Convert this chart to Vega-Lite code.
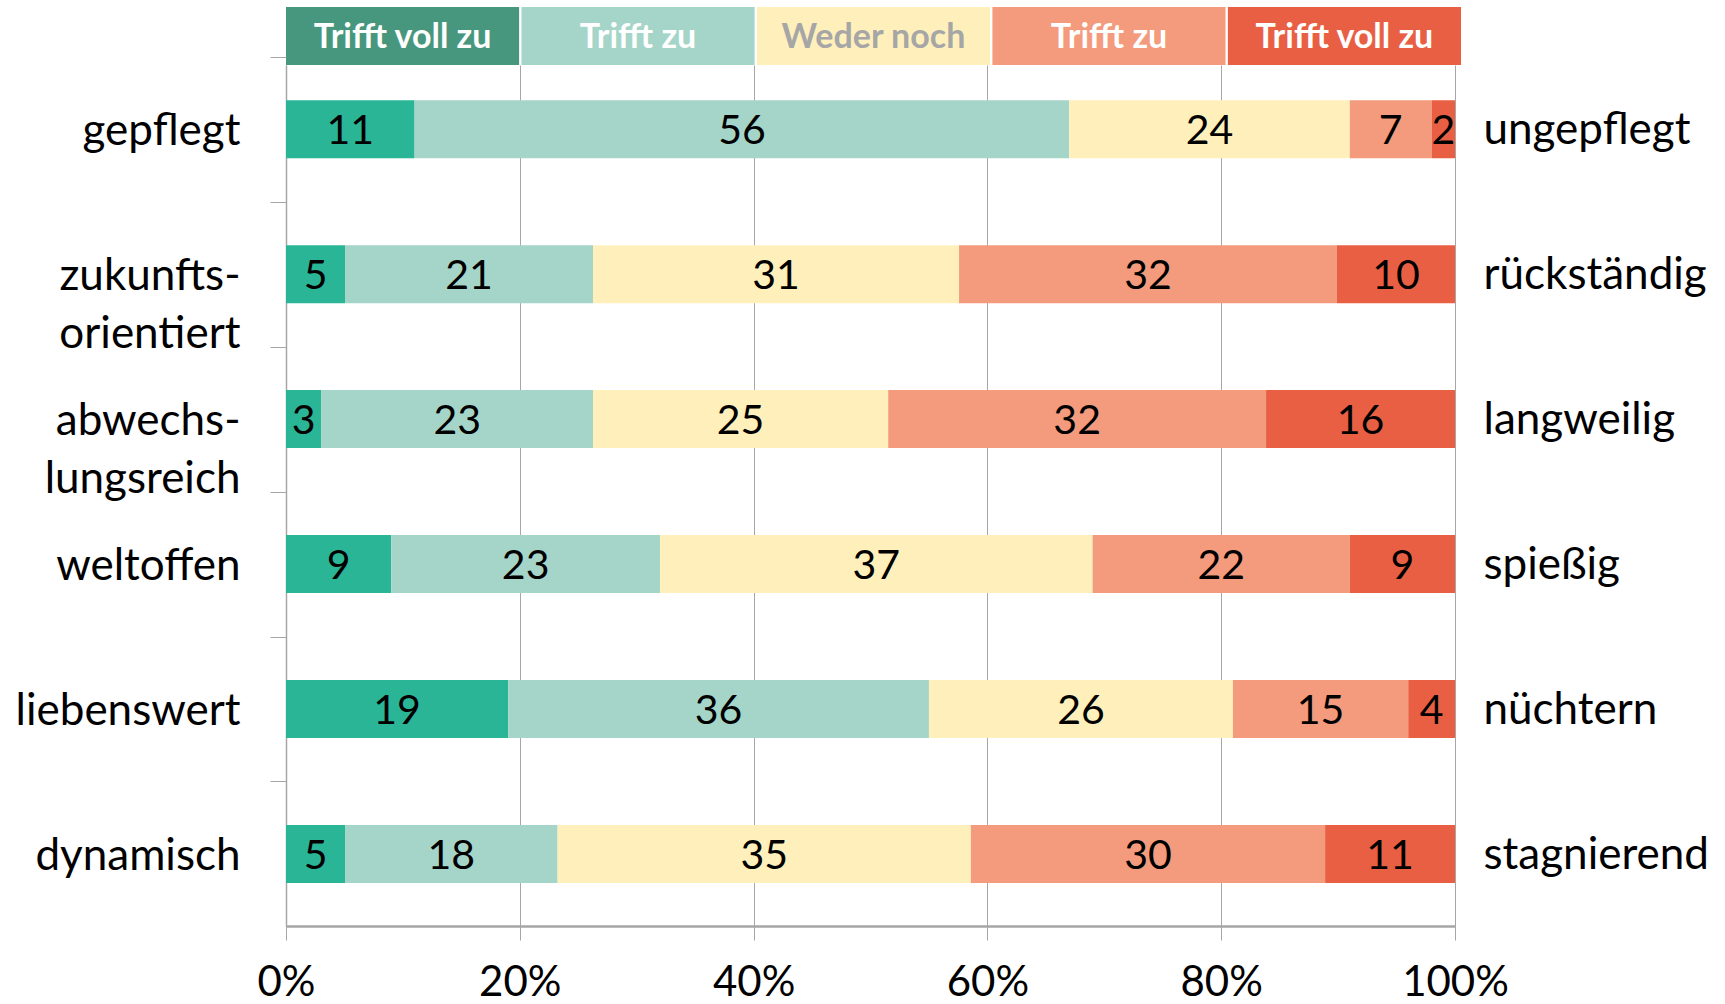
{
  "$schema": "https://vega.github.io/schema/vega-lite/v6.json",
  "background": "white",
  "padding": {"left": 15, "top": 7, "right": 5, "bottom": 0},
  "bounds": "flush",
  "spacing": 0,
  "resolve": {"scale": {"color": "independent"}},
  "config": {"view": {"stroke": null}, "font": "Lato"},
  "datasets": {
    "legende": [
      {"k": 1, "label": "Trifft voll zu"},
      {"k": 2, "label": "Trifft zu"},
      {"k": 3, "label": "Weder noch"},
      {"k": 4, "label": "Trifft zu"},
      {"k": 5, "label": "Trifft voll zu"}
    ],
    "werte": [
      {"item": "gepflegt", "gegenteil": "ungepflegt", "k": 1, "value": 11},
      {"item": "gepflegt", "gegenteil": "ungepflegt", "k": 2, "value": 56},
      {"item": "gepflegt", "gegenteil": "ungepflegt", "k": 3, "value": 24},
      {"item": "gepflegt", "gegenteil": "ungepflegt", "k": 4, "value": 7},
      {"item": "gepflegt", "gegenteil": "ungepflegt", "k": 5, "value": 2},
      {"item": "zukunftsorientiert", "gegenteil": "rückständig", "k": 1, "value": 5},
      {"item": "zukunftsorientiert", "gegenteil": "rückständig", "k": 2, "value": 21},
      {"item": "zukunftsorientiert", "gegenteil": "rückständig", "k": 3, "value": 31},
      {"item": "zukunftsorientiert", "gegenteil": "rückständig", "k": 4, "value": 32},
      {"item": "zukunftsorientiert", "gegenteil": "rückständig", "k": 5, "value": 10},
      {"item": "abwechslungsreich", "gegenteil": "langweilig", "k": 1, "value": 3},
      {"item": "abwechslungsreich", "gegenteil": "langweilig", "k": 2, "value": 23},
      {"item": "abwechslungsreich", "gegenteil": "langweilig", "k": 3, "value": 25},
      {"item": "abwechslungsreich", "gegenteil": "langweilig", "k": 4, "value": 32},
      {"item": "abwechslungsreich", "gegenteil": "langweilig", "k": 5, "value": 16},
      {"item": "weltoffen", "gegenteil": "spießig", "k": 1, "value": 9},
      {"item": "weltoffen", "gegenteil": "spießig", "k": 2, "value": 23},
      {"item": "weltoffen", "gegenteil": "spießig", "k": 3, "value": 37},
      {"item": "weltoffen", "gegenteil": "spießig", "k": 4, "value": 22},
      {"item": "weltoffen", "gegenteil": "spießig", "k": 5, "value": 9},
      {"item": "liebenswert", "gegenteil": "nüchtern", "k": 1, "value": 19},
      {"item": "liebenswert", "gegenteil": "nüchtern", "k": 2, "value": 36},
      {"item": "liebenswert", "gegenteil": "nüchtern", "k": 3, "value": 26},
      {"item": "liebenswert", "gegenteil": "nüchtern", "k": 4, "value": 15},
      {"item": "liebenswert", "gegenteil": "nüchtern", "k": 5, "value": 4},
      {"item": "dynamisch", "gegenteil": "stagnierend", "k": 1, "value": 5},
      {"item": "dynamisch", "gegenteil": "stagnierend", "k": 2, "value": 18},
      {"item": "dynamisch", "gegenteil": "stagnierend", "k": 3, "value": 35},
      {"item": "dynamisch", "gegenteil": "stagnierend", "k": 4, "value": 30},
      {"item": "dynamisch", "gegenteil": "stagnierend", "k": 5, "value": 11}
    ]
  },
  "vconcat": [
    {
      "width": 1175,
      "height": 58,
      "data": {"name": "legende"},
      "layer": [
        {
          "mark": {"type": "rect"},
          "encoding": {
            "x": {"field": "k", "type": "ordinal", "axis": null, "scale": {"type": "band", "paddingInner": 0.01, "paddingOuter": 0}},
            "color": {"field": "k", "type": "ordinal", "legend": null, "scale": {"domain": [1, 2, 3, 4, 5], "range": ["#47977E", "#A5D5C8", "#FFF0BB", "#F39B7C", "#E95F43"]}}
          }
        },
        {
          "mark": {"type": "text", "fontSize": 34, "fontWeight": "bold", "align": "center", "baseline": "middle", "dy": 2},
          "encoding": {
            "x": {"field": "k", "type": "ordinal", "axis": null},
            "text": {"field": "label"},
            "color": {"condition": {"test": "datum.k == 3", "value": "#A6A6A6"}, "value": "white"}
          }
        }
      ]
    },
    {
      "width": 1169,
      "height": 861,
      "data": {"name": "werte"},
      "transform": [
        {"stack": "value", "groupby": ["item"], "sort": [{"field": "k", "order": "ascending"}], "offset": "normalize", "as": ["v0", "v1"]},
        {"calculate": "(datum.v0 + datum.v1) / 2", "as": "mid"}
      ],
      "layer": [
        {
          "mark": {"type": "bar"},
          "encoding": {
            "y": {
              "field": "item", "type": "nominal", "sort": null, "title": null,
              "scale": {"type": "band", "paddingInner": 0.6, "paddingOuter": 0.27, "align": 0.45},
              "axis": {
                "orient": "left", "bandPosition": 0, "tickExtra": false, "tickOffset": -43.5, "labelOffset": 46,
                "tickSize": 16, "tickColor": "#A6A6A6",
                "domainColor": "#A6A6A6", "domainWidth": 1.5, "labelFontSize": 44, "labelColor": "black",
                "labelPadding": 30, "labelLimit": 500, "labelLineHeight": 58,
                "labelExpr": "datum.value == 'zukunftsorientiert' ? ['zukunfts-', 'orientiert'] : datum.value == 'abwechslungsreich' ? ['abwechs-', 'lungsreich'] : datum.label"
              }
            },
            "x": {
              "field": "v0", "type": "quantitative", "title": null,
              "scale": {"domain": [0, 1], "nice": false},
              "axis": {
                "values": [0, 0.2, 0.4, 0.6, 0.8, 1], "format": ".0%", "grid": true, "gridColor": "#A6A6A6",
                "tickColor": "#A6A6A6", "tickSize": 14, "domainColor": "#A6A6A6", "domainWidth": 2.5,
                "labelFontSize": 42, "labelColor": "black", "labelPadding": 22, "labelFlush": false
              }
            },
            "x2": {"field": "v1"},
            "color": {"field": "k", "type": "ordinal", "legend": null, "scale": {"domain": [1, 2, 3, 4, 5], "range": ["#2BB597", "#A5D5C8", "#FFF0BB", "#F39B7C", "#E95F43"]}}
          }
        },
        {
          "mark": {"type": "text", "fontSize": 41, "align": "center", "baseline": "middle", "color": "black", "dy": 3},
          "encoding": {
            "y": {
              "field": "gegenteil", "type": "nominal", "sort": null, "title": null,
              "scale": {"type": "band", "paddingInner": 0.6, "paddingOuter": 0.27, "align": 0.45},
              "axis": {"orient": "right", "ticks": false, "domain": false, "labelFontSize": 44, "labelColor": "black", "labelPadding": 28, "labelLimit": 500, "labelOffset": 2}
            },
            "x": {"field": "mid", "type": "quantitative", "title": null},
            "text": {"field": "value"}
          }
        }
      ],
      "resolve": {"scale": {"y": "independent"}}
    }
  ]
}
